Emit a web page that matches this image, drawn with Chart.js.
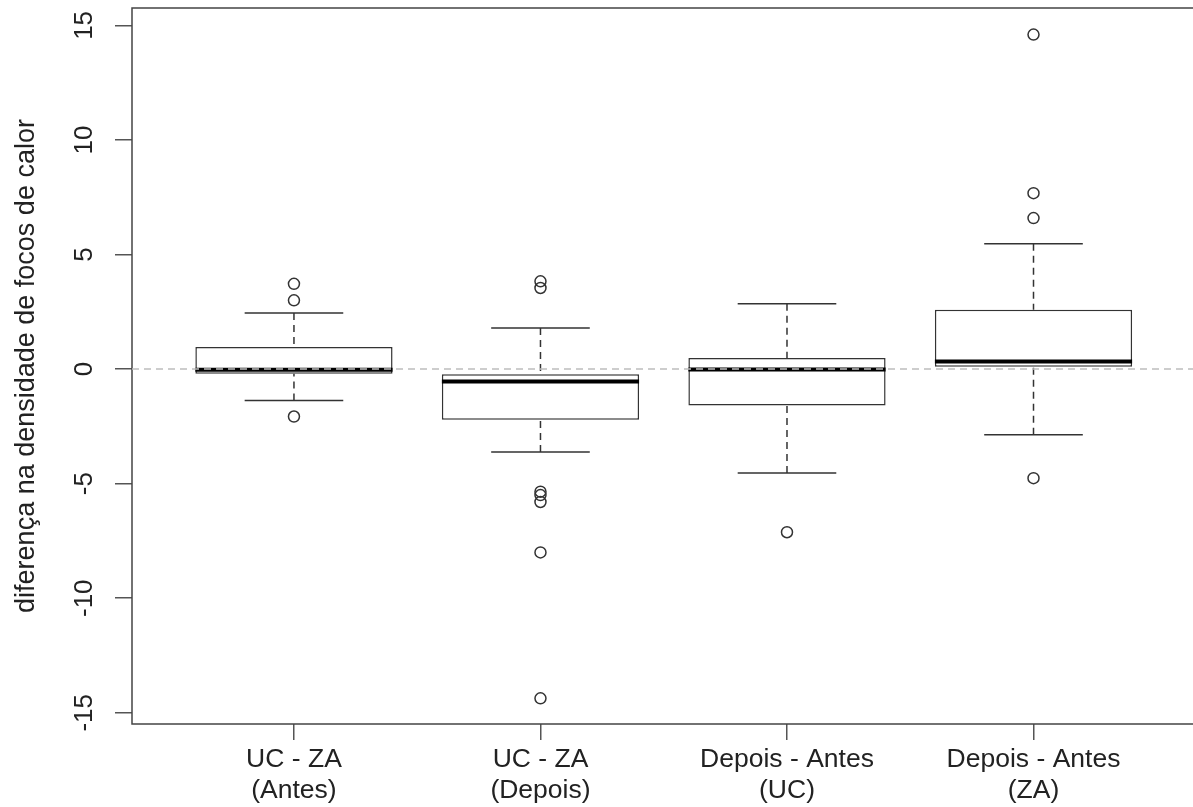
<!DOCTYPE html>
<html>
<head>
<meta charset="utf-8">
<script src="https://cdn.jsdelivr.net/npm/chart.js@4"></script>
<style>
  html, body { margin: 0; padding: 0; background: #fff; overflow: hidden; }
  #box-chart { display: block; width: 1193px; height: 807px; }
</style>
</head>
<body>
<canvas id="box-chart" width="1193" height="807"></canvas>
<script>
  const categories = [['UC - ZA', '(Antes)'], ['UC - ZA', '(Depois)'], ['Depois - Antes', '(UC)'], ['Depois - Antes', '(ZA)']];
  const lowerWhisker = [-1.37, -3.62, -4.54, -2.87];
  const q1 = [-0.2, -2.21, -1.59, 0.1];
  const median = [-0.03, -0.54, -0.02, 0.33];
  const q3 = [0.96, -0.22, 0.48, 2.59];
  const upperWhisker = [2.45, 1.79, 2.85, 5.47];
  const outliers = [
    [3.72, 3.0, -2.07],
    [3.83, 3.54, -5.35, -5.5, -5.8, -8.0, -14.37],
    [-7.12],
    [14.6, 7.68, 6.59, -4.76]
  ];
  const yTicks = [-15, -10, -5, 0, 5, 10, 15];
  const yTitle = 'diferença na densidade de focos de calor';

  const FONT = '"Liberation Sans", Arial, Helvetica, sans-serif';
  const INK = '#333';
  const stapleHalf = 0.2;
  const boxHalf = 0.4;

  Chart.defaults.font.family = FONT;
  Chart.defaults.font.size = 26;
  Chart.defaults.color = '#222';

  const boxPlugin = {
    id: 'boxParts',
    afterDatasetsDraw(chart) {
      const ctx = chart.ctx;
      const x = chart.scales.x;
      const y = chart.scales.y;
      ctx.save();
      categories.forEach((c, i) => {
        const xc = x.getPixelForValue(i + 1);
        // whiskers
        ctx.strokeStyle = INK;
        ctx.lineWidth = 1.5;
        ctx.setLineDash([7, 5]);
        ctx.beginPath();
        ctx.moveTo(xc, y.getPixelForValue(upperWhisker[i]));
        ctx.lineTo(xc, y.getPixelForValue(q3[i]));
        ctx.moveTo(xc, y.getPixelForValue(lowerWhisker[i]));
        ctx.lineTo(xc, y.getPixelForValue(q1[i]));
        ctx.stroke();
        // staples
        ctx.setLineDash([]);
        ctx.beginPath();
        [upperWhisker[i], lowerWhisker[i]].forEach(v => {
          const py = y.getPixelForValue(v);
          ctx.moveTo(x.getPixelForValue(i + 1 - stapleHalf), py);
          ctx.lineTo(x.getPixelForValue(i + 1 + stapleHalf), py);
        });
        ctx.stroke();
        // median
        ctx.strokeStyle = '#000';
        ctx.lineWidth = 4;
        ctx.beginPath();
        const pm = y.getPixelForValue(median[i]);
        ctx.moveTo(x.getPixelForValue(i + 1 - boxHalf), pm);
        ctx.lineTo(x.getPixelForValue(i + 1 + boxHalf), pm);
        ctx.stroke();
      });
      ctx.restore();
    },
    afterDraw(chart) {
      const ctx = chart.ctx;
      const a = chart.chartArea;
      const y = chart.scales.y;
      ctx.save();
      // frame (right side falls outside the picture)
      ctx.strokeStyle = '#444';
      ctx.lineWidth = 1.5;
      ctx.beginPath();
      ctx.moveTo(a.right + 2, a.top);
      ctx.lineTo(a.left, a.top);
      ctx.lineTo(a.left, a.bottom);
      ctx.lineTo(a.right + 2, a.bottom);
      ctx.stroke();
      // reference line at 0
      ctx.beginPath();
      ctx.rect(a.left, a.top, a.right - a.left, a.bottom - a.top);
      ctx.clip();
      ctx.strokeStyle = '#bdbdbd';
      ctx.setLineDash([7, 5]);
      ctx.beginPath();
      ctx.moveTo(a.left, y.getPixelForValue(0));
      ctx.lineTo(a.right, y.getPixelForValue(0));
      ctx.stroke();
      ctx.restore();
      // y tick labels, rotated like R
      ctx.save();
      ctx.fillStyle = '#222';
      ctx.font = '26px ' + FONT;
      ctx.textAlign = 'center';
      ctx.textBaseline = 'alphabetic';
      y.ticks.forEach(t => {
        ctx.save();
        ctx.translate(92, y.getPixelForValue(t.value));
        ctx.rotate(-Math.PI / 2);
        ctx.fillText(String(t.value), 0, 0);
        ctx.restore();
      });
      ctx.restore();
    }
  };

  const boxData = categories.map((c, i) => ({ x: i + 1, y: [q1[i], q3[i]] }));
  const outlierData = outliers.flatMap((vals, i) => vals.map(v => ({ x: i + 1, y: v })));

  const boxChart = new Chart(document.getElementById('box-chart'), {
    type: 'bar',
    data: {
      datasets: [
        {
          type: 'bar',
          data: boxData,
          backgroundColor: '#fff',
          borderColor: INK,
          borderWidth: 1.5,
          borderSkipped: false,
          barPercentage: 1,
          categoryPercentage: 0.8
        },
        {
          type: 'scatter',
          data: outlierData,
          showLine: false,
          pointStyle: 'circle',
          pointRadius: 5.5,
          pointBorderWidth: 1.5,
          pointBorderColor: INK,
          pointBackgroundColor: 'rgba(0,0,0,0)'
        }
      ]
    },
    options: {
      responsive: false,
      animation: false,
      layout: { autoPadding: false, padding: { top: 8, right: 0, left: 0, bottom: 0 } },
      plugins: { legend: { display: false }, tooltip: { enabled: false } },
      scales: {
        x: {
          type: 'linear',
          min: 0.343,
          max: 4.647,
          offset: false,
          afterFit(scale) { scale.height = 83; },
          border: { display: false },
          grid: { offset: false, drawOnChartArea: false, drawTicks: true, tickLength: 16, color: '#555', lineWidth: 1.5 },
          ticks: {
            stepSize: 1,
            includeBounds: false,
            maxRotation: 0,
            padding: 4,
            font: { size: 26.5, lineHeight: 1.18 },
            callback: v => categories[v - 1]
          }
        },
        y: {
          min: -15.49,
          max: 15.76,
          afterFit(scale) { scale.width = 132; },
          border: { display: false },
          grid: { drawOnChartArea: false, drawTicks: true, tickLength: 17, color: '#555', lineWidth: 1.5 },
          ticks: {
            stepSize: 5,
            includeBounds: false,
            display: false
          },
          title: {
            display: true,
            text: yTitle,
            font: { size: 27 },
            padding: { top: 10, bottom: 0 }
          }
        }
      }
    },
    plugins: [boxPlugin]
  });
</script>
</body>
</html>
